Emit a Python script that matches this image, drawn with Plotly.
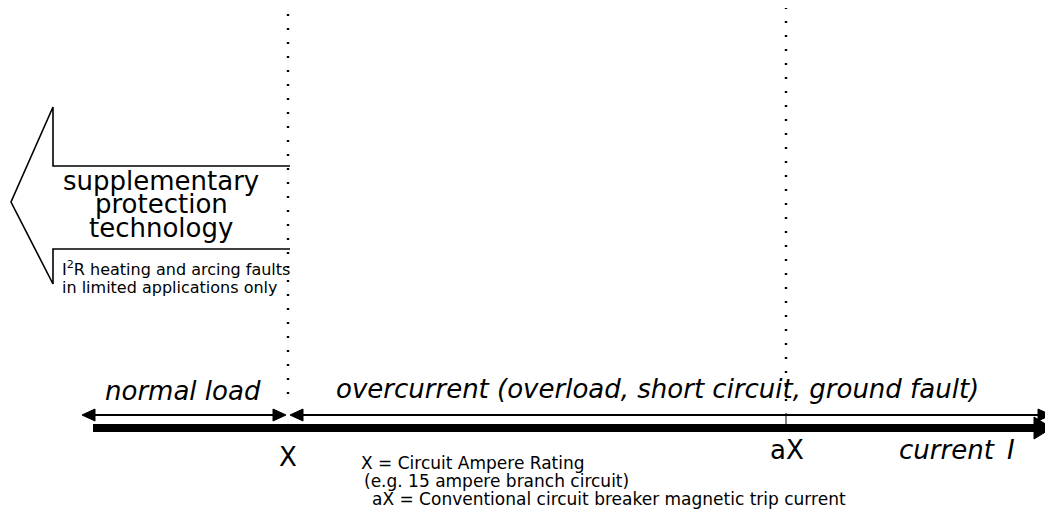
import plotly.graph_objects as go

# ---- content (text) ----
region_labels = ["normal load", "overcurrent (overload, short circuit, ground fault)"]
marker_labels = ["X", "aX"]
axis_label = ["current", "I"]
supp_lines = ["supplementary", "protection", "technology"]
supp_notes = ["I<sup>2</sup>R heating and arcing faults", "in limited applications only"]
legend_lines = [
    "X = Circuit Ampere Rating",
    "(e.g. 15 ampere branch circuit)",
    "aX = Conventional circuit breaker magnetic trip current",
]

# ---- diagram geometry (diagram units: 1 unit = 1 px of the reference) ----
W, H = 1053, 529
PAGE_MARGIN = 8                     # browser body margin
X_POS, AX_POS = 288, 786            # where X and aX sit on the current axis
AXIS_START, AXIS_END = 93, 1052     # thick current axis
THIN_Y, THICK_Y = 415, 428          # thin region arrows / thick axis
REGION_SPANS = [(82, 286), (290, 1051)]
DOT_TOPS = [14, 7]

FONT = "DejaVu Sans"
fig = go.Figure()
shapes = []
ann = []

def tri(tip_x, y, direction, length, half):
    bx = tip_x - direction * length
    return dict(type="path", xref="x", yref="y",
                path=f"M {tip_x},{y} L {bx},{y-half} L {bx},{y+half} Z",
                fillcolor="black", line=dict(color="black", width=1))

# dotted verticals at X and aX
for xp, top in zip([X_POS, AX_POS], DOT_TOPS):
    shapes.append(dict(type="line", xref="x", yref="y", x0=xp, x1=xp, y0=top, y1=THIN_Y - 12,
                       line=dict(color="black", width=2.4, dash="2px,12px")))
# tick at aX
shapes.append(dict(type="line", xref="x", yref="y", x0=AX_POS, x1=AX_POS, y0=THIN_Y - 2, y1=THICK_Y,
                   line=dict(color="black", width=1)))

# thick current axis with arrowhead
shapes.append(dict(type="line", xref="x", yref="y", x0=AXIS_START, x1=AXIS_END - 16, y0=THICK_Y, y1=THICK_Y,
                   line=dict(color="black", width=8)))
shapes.append(tri(AXIS_END, THICK_Y, 1, 18, 11))

# thin double-headed region arrows
for (a, b) in REGION_SPANS:
    shapes.append(dict(type="line", xref="x", yref="y", x0=a + 8, x1=b - 8, y0=THIN_Y, y1=THIN_Y,
                       line=dict(color="black", width=2)))
    shapes.append(tri(a, THIN_Y, -1, 13, 6))
    shapes.append(tri(b, THIN_Y, 1, 13, 6))

# big left arrow (supplementary protection)
shapes.append(dict(type="path", xref="x", yref="y",
                   path="M 290,166 L 53,166 L 53,107 L 11,202 L 53,284 L 53,249 L 290,249",
                   line=dict(color="black", width=1.6)))

# texts
def add_text(txt, x, y, size, xanchor="left", italic=False):
    ann.append(dict(x=x, y=y, xref="x", yref="y", text=txt, showarrow=False,
                    xanchor=xanchor, yanchor="middle",
                    font=dict(family=FONT, size=size, color="black",
                              style="italic" if italic else "normal")))

for t, y in zip(supp_lines, [181, 204, 228]):
    add_text(t, 161, y, 26, xanchor="center")
for t, y in zip(supp_notes, [268, 287]):
    add_text(t, 60, y, 16)

add_text(region_labels[0], 183, 391, 26, xanchor="center", italic=True)
add_text(region_labels[1], 334, 389, 26, italic=True)

add_text(marker_labels[0], X_POS, 457, 26, xanchor="center")
add_text(marker_labels[1], AX_POS + 1, 450, 26, xanchor="center")
add_text(axis_label[0], 897, 450, 26, italic=True)
add_text(axis_label[1], 1011, 450, 26, xanchor="center", italic=True)

for t, x, y in zip(legend_lines, [359, 362, 370], [463, 481, 499]):
    add_text(t, x, y, 17)

fig.update_layout(
    width=W - PAGE_MARGIN, height=H - PAGE_MARGIN,
    margin=dict(l=0, r=0, t=0, b=0),
    paper_bgcolor="white", plot_bgcolor="white",
    xaxis=dict(range=[PAGE_MARGIN, W], visible=False, fixedrange=True),
    yaxis=dict(range=[H, PAGE_MARGIN], visible=False, fixedrange=True),
    shapes=shapes, annotations=ann, showlegend=False,
)
fig.write_html("out.html")
